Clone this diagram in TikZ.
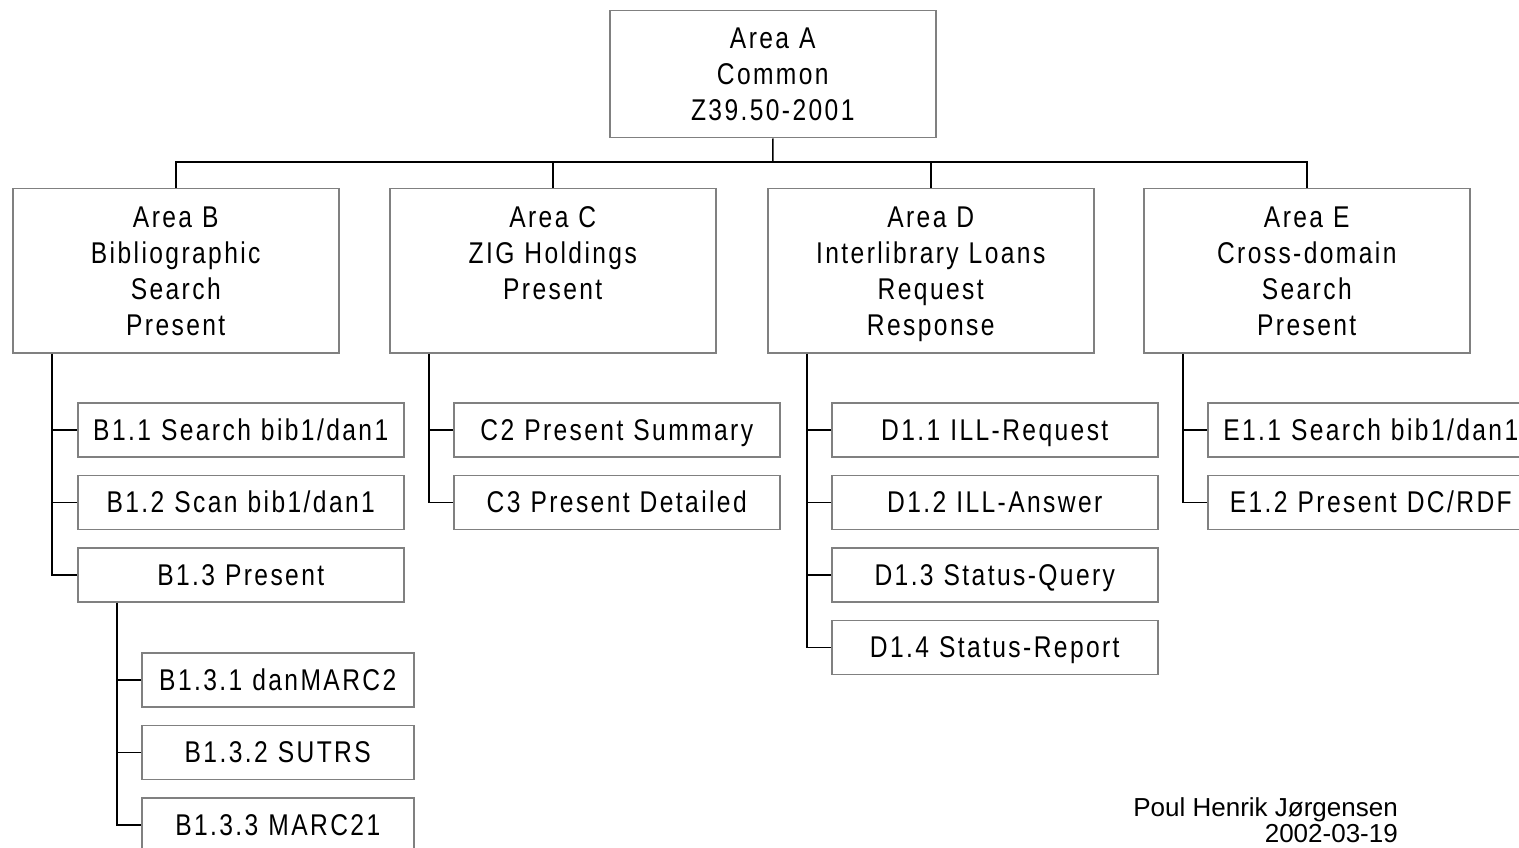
\documentclass[tikz,border=0pt]{standalone}
\usepackage{fontspec}
\setmainfont{Liberation Sans}
\newfontfamily\spaced[FakeStretch=0.82,LetterSpace=8]{Liberation Sans}
\definecolor{boxgray}{RGB}{128,128,128}
\begin{document}
\begin{tikzpicture}[x=1pt,y=-1pt]
\tikzset{
 box/.style={draw=boxgray, line width=1.5pt, inner sep=0pt, align=center, font=\spaced\fontsize{30}{36}\selectfont, anchor=north west},
 big/.style={box, minimum width=326pt, minimum height=164pt, text width=320pt, text height=21pt, text depth=108pt},
 leaf/.style={box, minimum width=326pt, minimum height=54pt, text width=320pt, text height=21pt, text depth=0pt},
 leafs/.style={box, minimum width=272pt, minimum height=54pt, text width=266pt, text height=21pt, text depth=0pt},
 conn/.style={line width=1.5pt, black}
}
\path[use as bounding box] (0,0) rectangle (1519,848);
\clip (0,0) rectangle (1519,848);
\node[box, minimum width=326pt, minimum height=127pt, text width=320pt, text height=21pt, text depth=72pt] (A) at (609,10) {Area A\\Common\\Z39.50-2001};
\node[big] (B) at (12,188) {Area B\\Bibliographic\\Search\\Present};
\node[big] (C) at (389,188) {Area C\\ZIG Holdings\\Present\\\mbox{}};
\node[big] (D) at (767,188) {Area D\\Interlibrary Loans\\Request\\Response};
\node[big] (E) at (1143,188) {Area E\\Cross-domain\\Search\\Present};
% B children
\node[leaf] (B11) at (77,402) {B1.1 Search bib1/dan1};
\node[leaf] (B12) at (77,474.5) {B1.2 Scan bib1/dan1};
\node[leaf] (B13) at (77,547) {B1.3 Present};
\node[leafs] (B131) at (141,652) {B1.3.1 danMARC2};
\node[leafs] (B132) at (141,724.5) {B1.3.2 SUTRS};
\node[leafs] (B133) at (141,797) {B1.3.3 MARC21};
% C children
\node[leaf] (C2) at (453,402) {C2 Present Summary};
\node[leaf] (C3) at (453,474.5) {C3 Present Detailed};
% D children
\node[leaf] (D11) at (831,402) {D1.1 ILL-Request};
\node[leaf] (D12) at (831,474.5) {D1.2 ILL-Answer};
\node[leaf] (D13) at (831,547) {D1.3 Status-Query};
\node[leaf] (D14) at (831,619.5) {D1.4 Status-Report};
% E children
\node[leaf] (E11) at (1207,402) {E1.1 Search bib1/dan1};
\node[leaf] (E12) at (1207,474.5) {E1.2 Present DC/RDF};
% signature
\node[anchor=north east, align=right, inner sep=0pt, font=\fontsize{26}{26}\selectfont] (sig) at (1398,797) {Poul Henrik Jørgensen\\2002-03-19};
% top connectors
\coordinate (bus) at (773,162);
\draw[conn] (A.south) -- (bus);
\draw[conn] (B.north) |- (bus) -| (E.north);
\draw[conn] (C.north) -- (C.north |- bus);
\draw[conn] (D.north) -- (D.north |- bus);
% trunks
\coordinate (Bt) at ([xshift=40pt]B.south west);
\coordinate (B3t) at ([xshift=40pt]B13.south west);
\coordinate (Ct) at ([xshift=40pt]C.south west);
\coordinate (Dt) at ([xshift=40pt]D.south west);
\coordinate (Et) at ([xshift=40pt]E.south west);
\draw[conn] (Bt) |- (B13.west);
\draw[conn] (B11.west) -- (B11.west -| Bt);
\draw[conn] (B12.west) -- (B12.west -| Bt);
\draw[conn] (B3t) |- (B133.west);
\draw[conn] (B131.west) -- (B131.west -| B3t);
\draw[conn] (B132.west) -- (B132.west -| B3t);
\draw[conn] (Ct) |- (C3.west);
\draw[conn] (C2.west) -- (C2.west -| Ct);
\draw[conn] (Dt) |- (D14.west);
\draw[conn] (D11.west) -- (D11.west -| Dt);
\draw[conn] (D12.west) -- (D12.west -| Dt);
\draw[conn] (D13.west) -- (D13.west -| Dt);
\draw[conn] (Et) |- (E12.west);
\draw[conn] (E11.west) -- (E11.west -| Et);
\end{tikzpicture}
\end{document}
